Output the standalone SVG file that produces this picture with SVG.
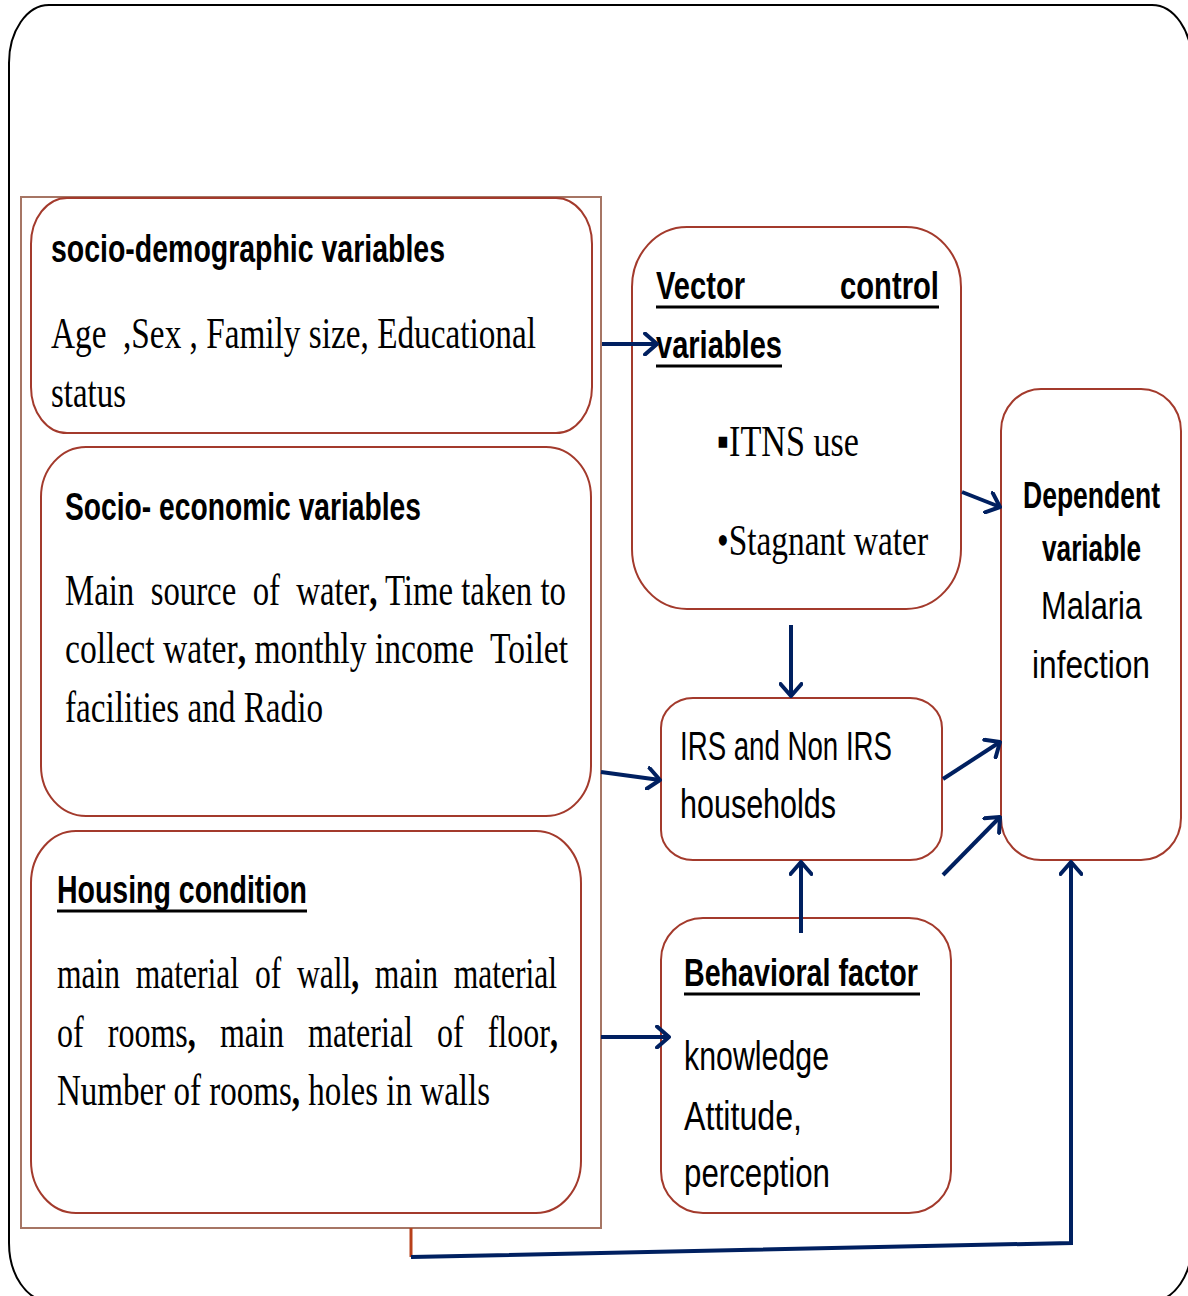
<svg xmlns="http://www.w3.org/2000/svg" width="1188" height="1296" viewBox="0 0 1188 1296">
<defs>
<style>
.frame{fill:none;stroke:#000;stroke-width:2}
.group{fill:none;stroke:#a67564;stroke-width:2}
.box{fill:#fff;stroke:#a33a2c;stroke-width:2}
.title{font-family:"Liberation Sans",Arial,sans-serif;font-weight:bold;fill:#000;white-space:pre}
.sans{font-family:"Liberation Sans",Arial,sans-serif;fill:#000;white-space:pre}
.serif{font-family:"Liberation Serif","Times New Roman",serif;fill:#000;white-space:pre}
.ul{stroke:#000;stroke-width:3}
.conn{fill:none;stroke:#002060;stroke-width:4}
.b{font-weight:bold}
</style>
<marker id="arr" viewBox="0 0 16 24" refX="14" refY="12" markerWidth="16" markerHeight="24" markerUnits="userSpaceOnUse" orient="auto">
<path d="M2,1.5 L14,12 L2,22.5" fill="none" stroke="#002060" stroke-width="4" stroke-linecap="round" stroke-linejoin="round"/>
</marker>
</defs>
<rect width="1188" height="1296" fill="#fff"/>
<rect class="frame" x="9" y="5" width="1183" height="1296" rx="40" ry="58"/>
<rect class="group" x="21" y="197" width="580" height="1031"/>

<g id="socio-demographic">
<rect class="box" x="31" y="198" width="561" height="235" rx="36" ry="46"/>
<text class="title" x="51" y="262" font-size="38" textLength="394" lengthAdjust="spacingAndGlyphs">socio-demographic variables</text>
<text class="serif" x="51" y="348" font-size="45" textLength="485" lengthAdjust="spacingAndGlyphs">Age  ,Sex , Family size, Educational</text>
<text class="serif" x="51" y="407" font-size="45" textLength="75" lengthAdjust="spacingAndGlyphs">status</text>
</g>

<g id="socio-economic">
<rect class="box" x="41" y="447" width="550" height="369" rx="45" ry="50"/>
<text class="title" x="65" y="520" font-size="38" textLength="356" lengthAdjust="spacingAndGlyphs">Socio- economic variables</text>
<text class="serif" x="65" y="605" font-size="45" textLength="501" lengthAdjust="spacingAndGlyphs">Main  source  of  water<tspan class="b">,</tspan> Time taken to</text>
<text class="serif" x="65" y="663" font-size="45" textLength="503" lengthAdjust="spacingAndGlyphs">collect water<tspan class="b">,</tspan> monthly income  Toilet</text>
<text class="serif" x="65" y="722" font-size="45" textLength="258" lengthAdjust="spacingAndGlyphs">facilities and Radio</text>
</g>

<g id="housing-condition">
<rect class="box" x="31" y="831" width="550" height="382" rx="45" ry="52"/>
<text class="title" x="57" y="903" font-size="38" textLength="250" lengthAdjust="spacingAndGlyphs">Housing condition</text>
<line class="ul" x1="57" y1="911" x2="307" y2="911"/>
<text class="serif" x="57" y="988" font-size="45" textLength="500" lengthAdjust="spacingAndGlyphs">main  material  of  wall<tspan class="b">,</tspan>  main  material</text>
<text class="serif" x="57" y="1047" font-size="45" textLength="501" lengthAdjust="spacingAndGlyphs">of   rooms<tspan class="b">,</tspan>   main   material   of   floor<tspan class="b">,</tspan></text>
<text class="serif" x="57" y="1105" font-size="45" textLength="433" lengthAdjust="spacingAndGlyphs">Number of rooms<tspan class="b">,</tspan> holes in walls</text>
</g>

<g id="vector-control">
<rect class="box" x="632" y="227" width="329" height="382" rx="55" ry="60"/>
<text class="title" x="656" y="299" font-size="38" textLength="89" lengthAdjust="spacingAndGlyphs">Vector</text>
<text class="title" x="840" y="299" font-size="38" textLength="99" lengthAdjust="spacingAndGlyphs">control</text>
<line class="ul" x1="656" y1="307" x2="939" y2="307"/>
<text class="title" x="656" y="358" font-size="38" textLength="126" lengthAdjust="spacingAndGlyphs">variables</text>
<line class="ul" x1="656" y1="366" x2="782" y2="366"/>
<text class="serif" x="717" y="456" font-size="45" textLength="142" lengthAdjust="spacingAndGlyphs">▪ITNS use</text>
<text class="serif" x="717" y="555" font-size="45" textLength="211" lengthAdjust="spacingAndGlyphs">•Stagnant water</text>
</g>

<g id="dependent-variable">
<rect class="box" x="1001" y="389" width="180" height="471" rx="40" ry="42"/>
<text class="title" x="1023" y="508" font-size="37" textLength="137" lengthAdjust="spacingAndGlyphs">Dependent</text>
<text class="title" x="1042" y="561" font-size="37" textLength="99" lengthAdjust="spacingAndGlyphs">variable</text>
<text class="sans" x="1041" y="619" font-size="38" textLength="101" lengthAdjust="spacingAndGlyphs">Malaria</text>
<text class="sans" x="1032" y="678" font-size="38" textLength="118" lengthAdjust="spacingAndGlyphs">infection</text>
</g>

<g id="irs-households">
<rect class="box" x="661" y="698" width="281" height="162" rx="32" ry="30"/>
<text class="sans" x="680" y="760" font-size="40" textLength="212" lengthAdjust="spacingAndGlyphs">IRS and Non IRS</text>
<text class="sans" x="680" y="818" font-size="40" textLength="156" lengthAdjust="spacingAndGlyphs">households</text>
</g>

<g id="behavioral-factor">
<rect class="box" x="661" y="918" width="290" height="295" rx="42" ry="42"/>
<text class="title" x="684" y="986" font-size="38" textLength="234" lengthAdjust="spacingAndGlyphs">Behavioral factor</text>
<line class="ul" x1="684" y1="994" x2="920" y2="994"/>
<text class="sans" x="684" y="1070" font-size="40" textLength="145" lengthAdjust="spacingAndGlyphs">knowledge</text>
<text class="sans" x="684" y="1130" font-size="40" textLength="118" lengthAdjust="spacingAndGlyphs">Attitude,</text>
<text class="sans" x="684" y="1187" font-size="40" textLength="146" lengthAdjust="spacingAndGlyphs">perception</text>
</g>

<g id="connectors">
<path class="conn" d="M602,344 L657,344" marker-end="url(#arr)"/>
<path class="conn" d="M962,492 L1000,507" marker-end="url(#arr)"/>
<path class="conn" d="M791,625 L791,696" marker-end="url(#arr)"/>
<path class="conn" d="M601,772 L660,780" marker-end="url(#arr)"/>
<path class="conn" d="M943,779 L1000,742" marker-end="url(#arr)"/>
<path class="conn" d="M943,875 L1000,817" marker-end="url(#arr)"/>
<path class="conn" d="M601,1037 L669,1037" marker-end="url(#arr)"/>
<path class="conn" d="M801,933 L801,862" marker-end="url(#arr)"/>
<path d="M411,1228 L411,1257" fill="none" stroke="#b8401a" stroke-width="3"/>
<path class="conn" d="M411,1257 L1071,1243 L1071,862" marker-end="url(#arr)"/>
</g>
</svg>
